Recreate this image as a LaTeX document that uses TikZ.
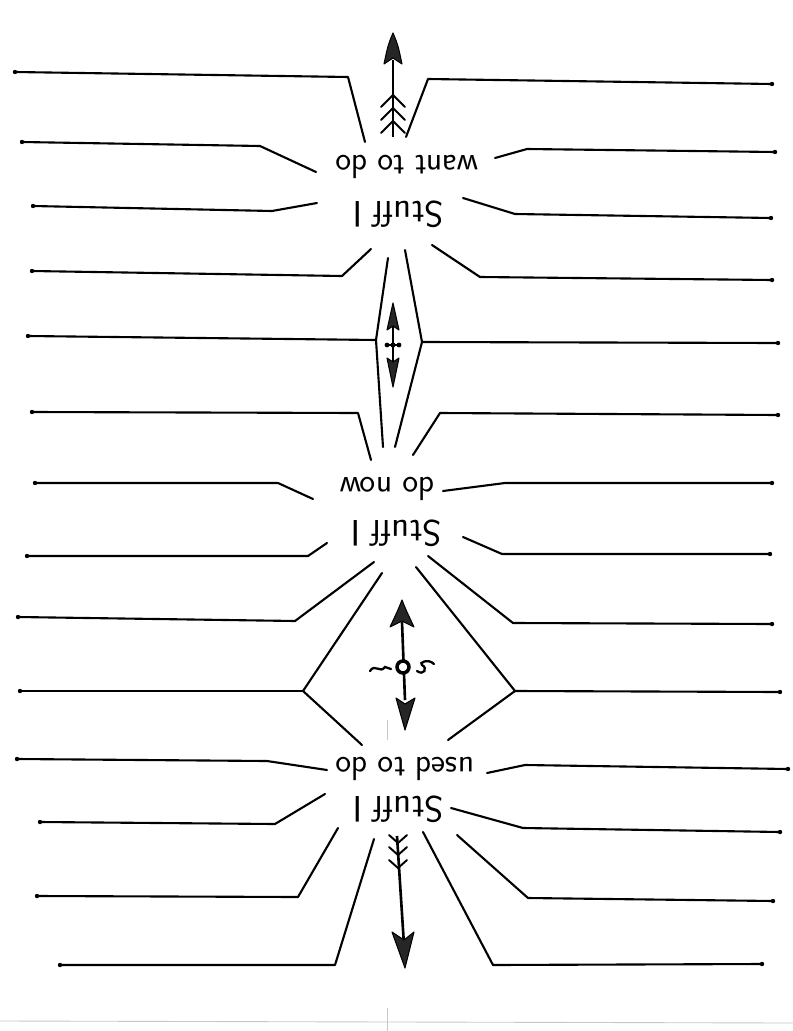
\documentclass[tikz,border=0pt]{standalone}
\usepackage{fontspec}
\usetikzlibrary{positioning}
\tikzset{
  leader/.style={line width=1.2pt, line join=round, line cap=round},
  tag/.style={font=\sffamily\fontsize{19}{22}\selectfont, rotate=180, inner sep=0pt},
  bigtag/.style={tag, font=\sffamily\fontsize{21}{24}\selectfont},
  inkhead/.style={fill=black!85, draw=black, line width=0.6pt, line join=round},
  fletch/.style={line width=1.1pt, line cap=round},
  pencil/.style={black!22, line width=0.5pt},
}

\begin{document}
\begin{tikzpicture}[x=0.02cm, y=-0.02cm]
  \useasboundingbox (0,0) rectangle (793,1031);
  % side lines, outer end / bend / inner end
  \foreach \ax/\ay/\bx/\by/\cx/\cy in {
      15/72/348/77/365/142, 22/142/260/146/316/172, 33/206/272/211/317/203, 32/271/342/276/371/249,
      772/84/428/79/406/137, 775/152/527/149/495/158, 771/218/515/214/463/198, 772/280/480/277/432/245,
      32/412/358/413/371/460, 778/415/440/413/413/455, 35/483/278/483/313/499, 772/483/505/483/443/491,
      27/556/308/556/327/543, 770/554/502/554/463/537,
      18/617/295/621/374/562, 772/624/513/623/428/556,
      17/759/267/761/327/770, 788/769/525/765/487/773, 40/822/275/824/325/794, 780/832/523/828/451/808,
      37/896/298/897/338/828, 773/901/528/898/457/835, 60/965/335/965/374/839, 762/964/493/965/423/832} {
    \draw[leader] (\ax,\ay) -- (\bx,\by) -- (\cx,\cy);
    \fill (\ax,\ay) circle (2.2);
  }
  % straight lines to the long diamond
  \draw[leader] (28,336) -- (376,340);
  \draw[leader] (778,343) -- (422,342);
  \fill (28,336) circle (2.2);
  \fill (778,343) circle (2.2);
  \draw[leader] (388,258) -- (376,340) -- (383,447);
  \draw[leader] (405,250) -- (422,342) -- (395,447);
  % forks around the middle arrow
  \draw[leader] (20,691) -- (303,691);
  \draw[leader] (382,573) -- (303,691) -- (362,745);
  \draw[leader] (780,692) -- (515,691);
  \draw[leader] (416,567) -- (515,691) -- (448,740);
  \fill (20,691) circle (2.2);
  \fill (780,692) circle (2.2);

  % headings, written upside down
  \node[tag] (want) at (407,167) {want to do};
  \node[bigtag] (wantS) at (398,214) {Stuff I};
  \node[tag] (now) at (387,489) {do now};
  \node[bigtag] (nowS) at (396,533) {Stuff I};
  \node[tag] (used) at (405,769) {used to do};
  \node[bigtag] (usedS) at (398,809) {Stuff I};

  % top arrow
  \draw[line width=1.5pt] (393,60) -- (393,137);
  \filldraw[inkhead] (393,33) .. controls (398,45) .. (402,64) -- (393,58) -- (384,64) .. controls (388,45) .. cycle;
  \foreach \t in {95,108,121}
    \draw[fletch] (381,\t+12) -- (393,\t) -- (405,\t+12);

  % small arrow in the diamond
  \draw[leader] (393,325) -- (393,362);
  \filldraw[inkhead] (393,303) -- (399,330) -- (393,326) -- (387,330) -- cycle;
  \filldraw[inkhead] (393,387) -- (399,358) -- (393,362) -- (387,358) -- cycle;
  \draw[line width=1.6pt, line cap=round] (387,345) -- (399,345);
  \fill (387,345) circle (2.4);
  \fill (399,345) circle (2.4);
  \fill (393,345) circle (2.6);

  % middle arrow
  \draw[line width=1.5pt] (402,622) -- (405,700);
  \filldraw[inkhead] (402,600) .. controls (406,610) .. (414,627) -- (402,621) -- (390,627) .. controls (398,610) .. cycle;
  \filldraw[inkhead] (405,730) -- (415,698) -- (405,704) -- (396,698) -- cycle;
  \draw[line width=2pt, fill=white] (403,667) circle (6);
  \draw[line width=1.3pt, line cap=round] (370,671) .. controls (375,663) and (380,674) .. (385,667) -- (391,669);
  \draw[line width=1.3pt, line cap=round] (417,671) .. controls (424,676) and (428,668) .. (422,665) .. controls (418,663) and (428,658) .. (434,664);

  % bottom arrow
  \draw[line width=1.5pt] (397,836) -- (404,945);
  \filldraw[inkhead] (405,968) -- (414,932) -- (404,940) -- (392,932) -- cycle;
  \foreach \t in {843,855,868}
    \draw[fletch] (389,\t-8) -- (398,\t) -- (407,\t-8);

  % pencil marks of the sheet
  \draw[pencil] (387,720) -- (387,740);
  \draw[pencil] (387,1008) -- (387,1031);
  \draw[pencil] (0,1021) -- (793,1023);
\end{tikzpicture}
\end{document}
